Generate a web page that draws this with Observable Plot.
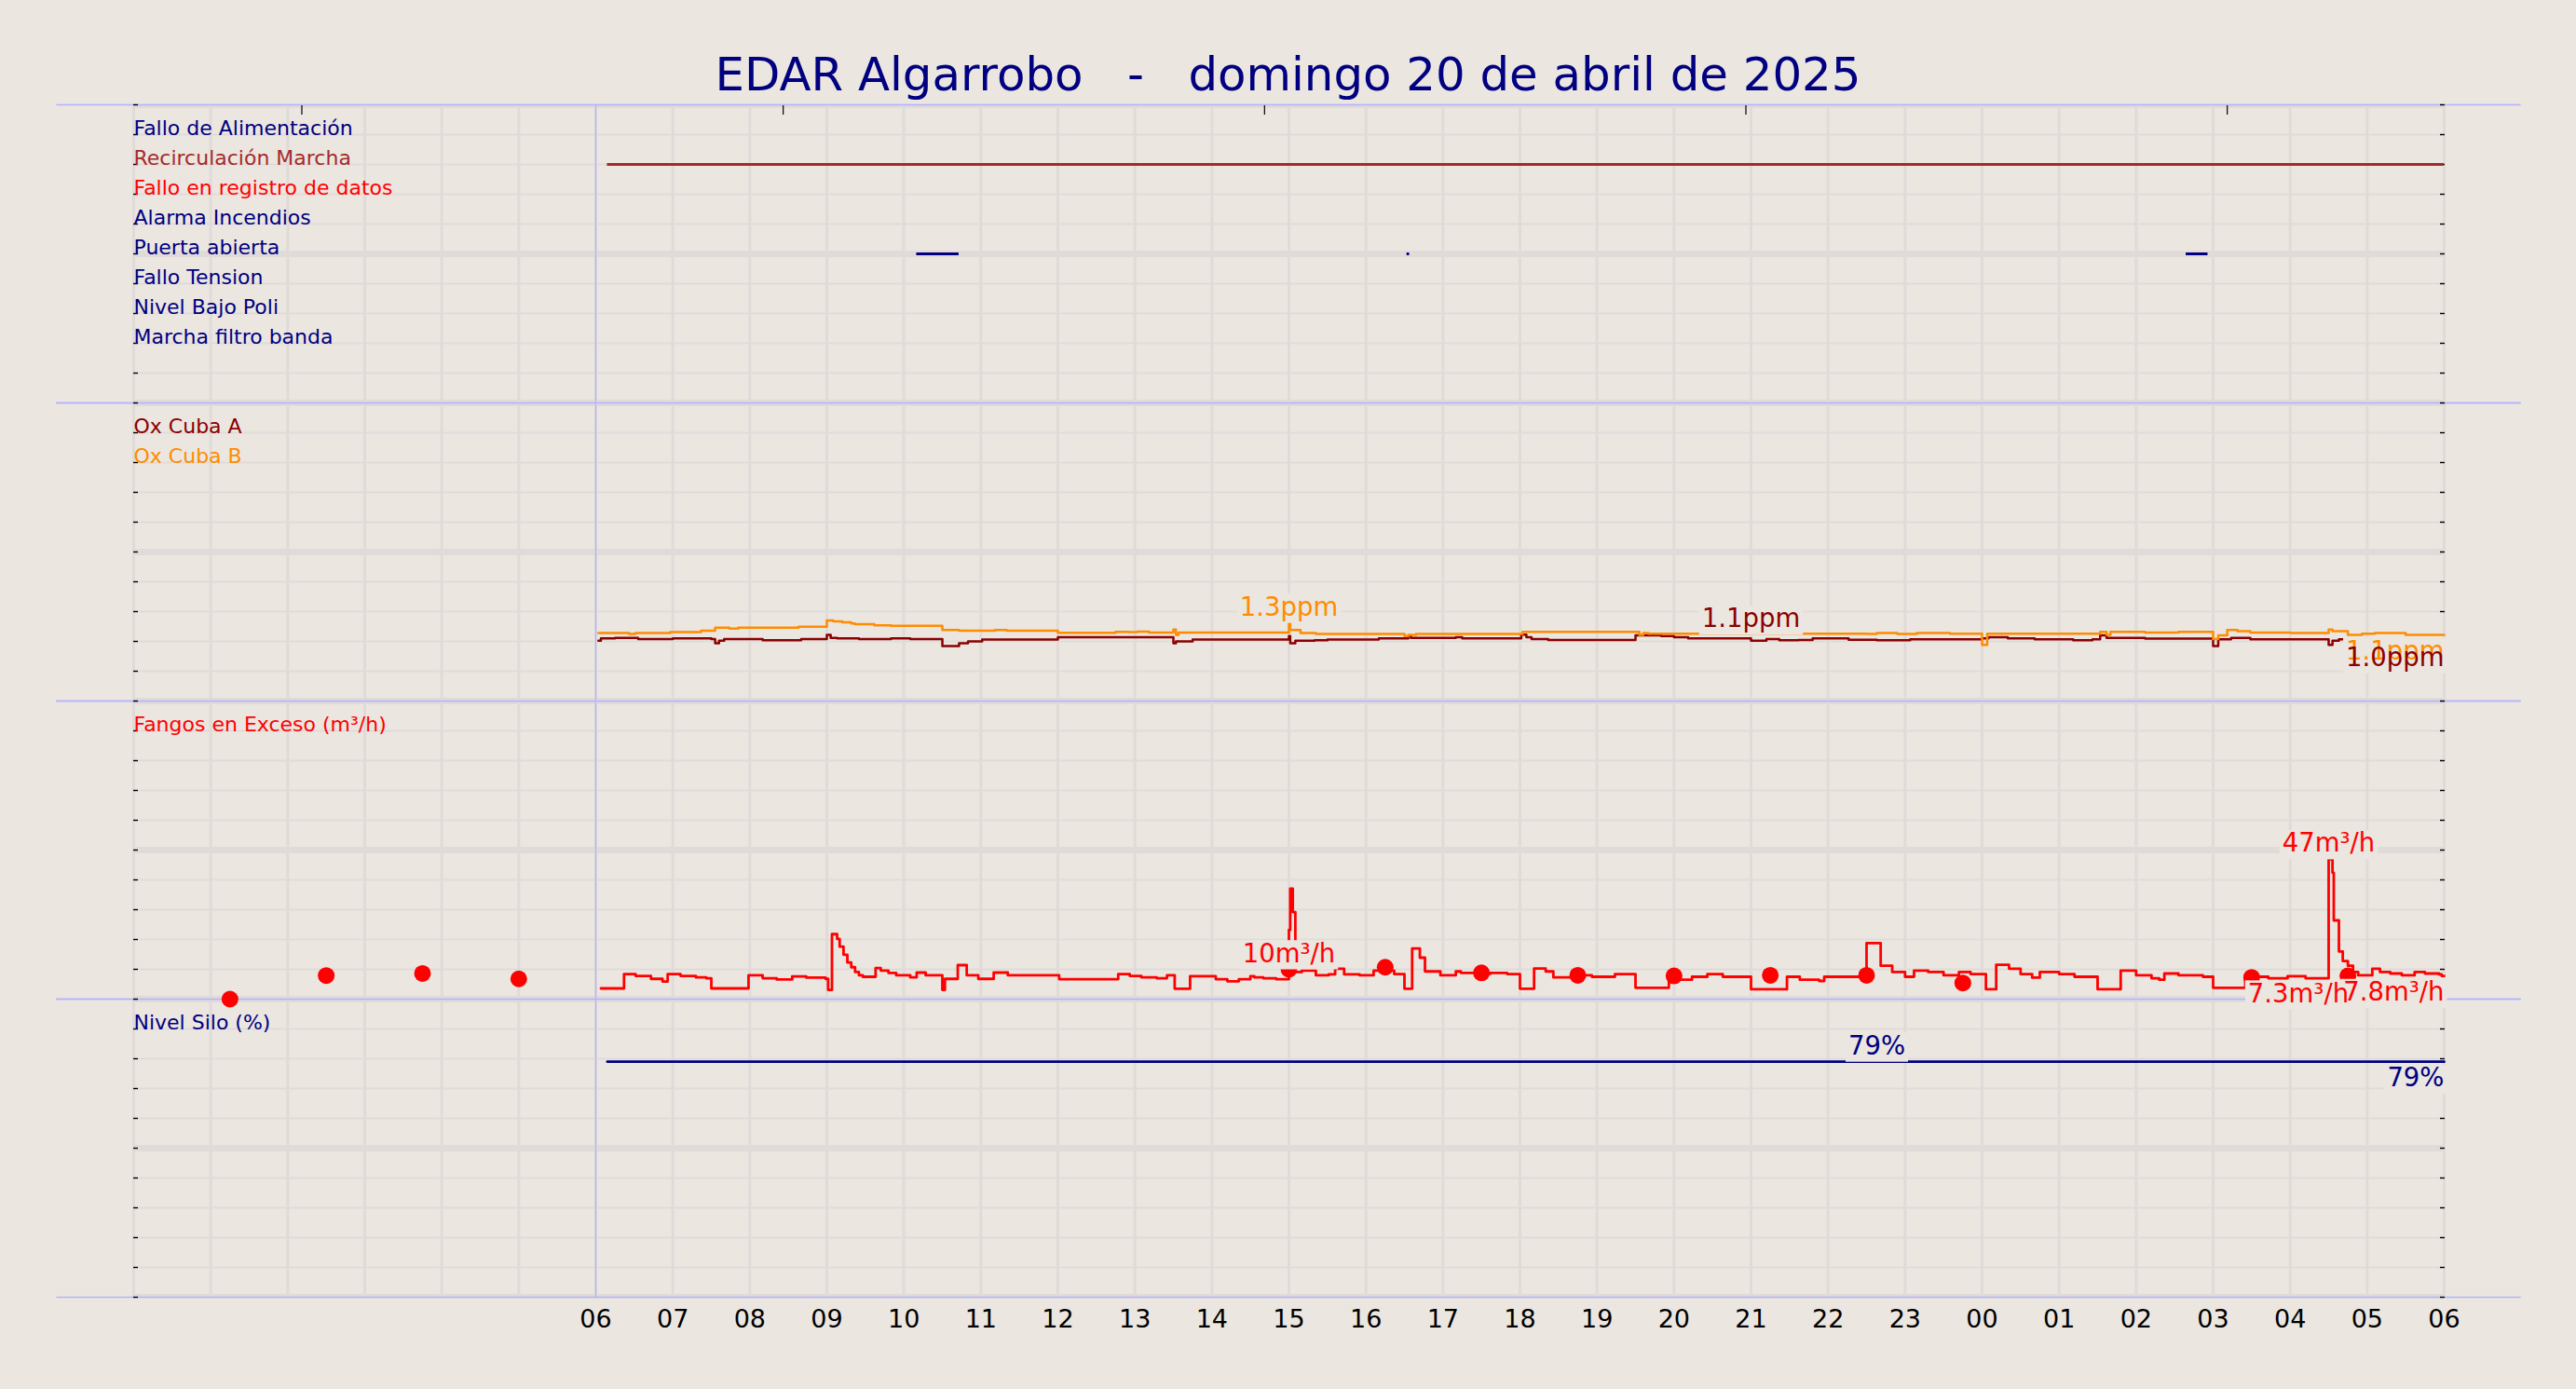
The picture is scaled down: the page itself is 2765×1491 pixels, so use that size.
<!DOCTYPE html>
<html>
<head>
<meta charset="utf-8">
<script src="https://cdn.jsdelivr.net/npm/d3@7"></script>
<script src="https://cdn.jsdelivr.net/npm/@observablehq/plot@0.6"></script>
<style>
  html, body { margin: 0; padding: 0; background: #ebe6e0; }
  body { width: 2765px; height: 1491px; position: relative; overflow: hidden; font-family: "DejaVu Sans", sans-serif; }
  #title { position: absolute; left: 0; top: 56px; width: 2765px; text-align: center; font-size: 49.8px; line-height: 1; color: #000080; white-space: pre; }
</style>
</head>
<body>
<div id="title"></div>
<script>
// ---------------- DATA ----------------
const titleText = "EDAR Algarrobo   -   domingo 20 de abril de 2025";

// Panel 1: digital states (rows from the top)
const stateLabels = ["Fallo de Alimentación", "Recirculación Marcha", "Fallo en registro de datos", "Alarma Incendios",
  "Puerta abierta", "Fallo Tension", "Nivel Bajo Poli", "Marcha filtro banda"];
const stateColors = ["#000080", "#a52a2a", "#ff0000", "#000080", "#000080", "#000080", "#000080", "#000080"];
const stateOnName  = ["Recirculación Marcha", "Puerta abierta", "Puerta abierta", "Puerta abierta"];
const stateOnStart = ["06:09", "10:10", "16:32", "+02:39"];
const stateOnEnd   = ["+06:00", "10:43", "16:34", "+02:56"];

// Panel 2: Ox Cuba A / B (ppm), step series ("+" = next day)
const oxATimes = ["06:02","06:04","06:15","06:33","07:00","07:30","07:33","07:36","07:40","08:10","08:40","09:00","09:03","09:08","09:25","09:50","10:05","10:30","10:43","10:50","11:01","12:00","13:30","13:32","13:45","15:00","15:01","15:05","15:20","15:30","16:10","16:33","16:35","17:10","17:15","18:01","18:05","18:09","18:22","19:30","19:50","20:00","20:11","21:00","21:12","21:22","21:37","21:48","22:16","22:38","23:04","+00:00","+00:05","+00:20","+00:41","+01:11","+01:26","+01:32","+01:37","+02:07","+03:00","+03:04","+03:14","+03:29","+04:30","+04:33","+04:38","+05:00","+06:00"];
const oxAValues = [1.01,1.05,1.06,1.04,1.05,1.04,0.97,1.01,1.04,1.02,1.04,1.11,1.06,1.05,1.04,1.05,1.04,0.92,0.97,1.0,1.03,1.07,0.97,1.0,1.03,1.09,0.97,1.01,1.02,1.03,1.05,1.09,1.06,1.07,1.05,1.115,1.07,1.04,1.025,1.10,1.09,1.07,1.05,1.01,1.04,1.02,1.025,1.05,1.026,1.02,1.036,1.05,1.07,1.05,1.036,1.02,1.036,1.10,1.06,1.047,0.92,1.036,1.06,1.036,0.94,1.01,1.036,1.02,1.0];
const oxBTimes = ["06:02","06:26","06:31","06:58","07:22","07:33","07:44","07:51","08:38","09:00","09:05","09:12","09:19","09:22","09:37","09:50","10:30","10:43","11:11","11:20","12:00","12:45","12:55","13:02","13:11","13:30","13:32","13:34","15:00","15:01","15:09","15:21","16:30","16:33","16:39","18:02","19:33","19:36","19:40","22:31","22:38","22:54","23:09","23:35","+00:00","+00:04","+01:32","+01:37","+01:40","+02:07","+02:33","+03:00","+03:04","+03:11","+03:19","+03:29","+04:00","+04:30","+04:33","+04:45","+04:56","+05:06","+05:30","+06:00"];
const oxBValues = [1.14,1.125,1.14,1.155,1.18,1.23,1.215,1.23,1.245,1.35,1.335,1.32,1.30,1.29,1.27,1.26,1.19,1.18,1.19,1.18,1.145,1.16,1.155,1.165,1.15,1.2,1.11,1.15,1.31,1.19,1.14,1.125,1.09,1.11,1.125,1.16,1.11,1.14,1.13,1.125,1.14,1.125,1.14,1.13,0.94,1.13,1.16,1.11,1.16,1.15,1.16,1.04,1.10,1.19,1.17,1.15,1.14,1.2,1.17,1.11,1.13,1.14,1.11,1.11];
const oxLabelSeries = ["B", "A", "B", "A"];
const oxLabelTimes  = ["15:00", "21:00", "+06:00", "+06:00"];
const oxLabelValues = [1.31, 1.11, 1.11, 1.0];
const oxLabelPlace  = ["above", "above", "end", "end"];

// Panel 3: Fangos en Exceso (m³/h)
const fangosTimes = ["06:04","06:22","06:31","06:43","06:52","06:56","07:06","07:18","07:26","07:30","07:59","08:10","08:21","08:33","08:44","08:59","09:01","09:04","09:08","09:10","09:13","09:16","09:19","09:22","09:25","09:28","09:38","09:42","09:48","09:54","10:05","10:10","10:17","10:30","10:32","10:42","10:49","10:58","11:10","11:21","12:01","12:47","12:56","13:05","13:17","13:25","13:31","13:43","14:03","14:12","14:21","14:30","14:33","14:40","14:50","15:00","15:01","15:03","15:05","15:10","15:21","15:31","15:36","15:43","15:55","16:06","16:22","16:30","16:36","16:42","16:46","16:58","17:10","17:14","17:26","17:37","17:50","18:00","18:11","18:20","18:26","18:47","18:56","19:14","19:30","19:56","20:05","20:14","20:26","20:38","21:00","21:28","21:38","21:53","21:57","22:30","22:41","22:50","23:00","23:07","23:18","23:30","23:42","23:51","+00:03","+00:11","+00:21","+00:30","+00:39","+00:45","+01:00","+01:12","+01:30","+01:48","+02:00","+02:12","+02:18","+02:22","+02:33","+02:52","+03:00","+03:25","+03:43","+03:58","+04:12","+04:30","+04:33","+04:34","+04:38","+04:41","+04:45","+04:49","+04:53","+05:04","+05:10","+05:18","+05:27","+05:37","+05:45","+05:56","+05:58","+06:00"];
const fangosValues = [3.6,8.4,7.8,6.8,5.9,8.4,7.8,7.3,7.0,3.6,8.0,7.0,6.6,7.6,7.2,6.8,3.1,21.8,20.2,17.6,14.9,12.3,10.7,9.1,8.0,7.5,10.4,9.6,8.8,8.0,7.3,8.9,8.0,3.1,6.8,11.4,8.0,6.8,8.9,8.0,6.7,8.4,7.8,7.3,7.0,8.0,3.5,7.7,6.7,6.0,6.7,7.7,7.3,7.0,6.7,23.2,37.1,29.2,9.1,9.6,8.0,8.3,10.2,8.3,8.0,9.6,8.4,3.5,17.0,13.9,9.3,8.0,9.3,8.8,8.5,8.8,8.4,3.5,10.3,9.3,7.3,8.0,7.5,8.4,3.8,8.4,6.5,7.5,8.4,7.5,3.3,7.5,6.5,6.1,7.5,18.8,11.2,9.1,7.5,9.6,9.1,8.0,9.1,8.4,3.3,11.5,10.2,8.4,7.2,9.1,8.4,7.5,3.3,9.6,8.0,7.0,6.5,8.6,8.0,7.5,3.8,7.5,7.0,7.7,7.0,46.9,42.4,26.4,16.0,12.8,11.2,9.1,8.0,10.2,9.1,8.6,8.0,9.1,8.6,8.3,7.8,7.8];
const fangosDotTimes  = ["01:15","02:30","03:45","05:00","15:00","16:15","17:30","18:45","20:00","21:15","22:30","23:45","+03:30","+04:45"];
const fangosDotValues = [0, 7.9, 8.6, 6.8, 10.0, 10.7, 8.8, 8.0, 7.8, 8.0, 8.0, 5.4, 7.3, 7.8];
const fangosLabelTimes  = ["+04:30", "15:00", "+03:30", "+06:00"];
const fangosLabelValues = [46.9, 10.0, 7.3, 7.8];
const fangosLabelPlace  = ["above", "above", "start", "end"];

// Panel 4: Nivel Silo (%)
const siloTimes  = ["06:09", "+06:00"];
const siloValues = [79, 79];
const siloLabelTimes  = ["22:38", "+06:00"];
const siloLabelValues = [79, 79];
const siloLabelPlace  = ["above", "end"];

// Axis ticks
const topTickTimes = ["02:11", "08:26", "14:41", "20:56", "+03:11"];

// ---------------- HELPERS ----------------
const BG = "#ebe6e0", GRID = "#e0dbd9", SEP = "#b3b3ff";
const NAVY = "#000080", DARKRED = "#8b0000", ORANGE = "#ff8c00", RED = "#ff0000", BROWN = "#a52a2a";
const W = 2765, ML = 143, MR = 142, PH = 320, TOP0 = 112;
const LABEL_FS = 27.5;

const T = s => {
  const next = s[0] === "+", prev = s[0] === "-";
  const [h, m] = s.replace(/^[+-]/, "").split(":").map(Number);
  return new Date(2025, 3, next ? 21 : prev ? 19 : 20, h, m);
};
const xDomain = [T("00:00"), T("+06:00")];
const sepFrom = T("-23:00"), sepTo = T("+07:00");
const hourGrid = d3.timeHour.range(T("00:00"), T("+06:01"));
const hourLabels = d3.timeHour.range(T("06:00"), T("+06:01"));
const zip = (ts, vs) => ts.map((t, i) => ({t: T(t), v: vs[i]}));
const boxedTexts = new Set();

document.getElementById("title").textContent = titleText;

function valueLabels(times, values, places, colors, fmt) {
  return times.map((t, i) => {
    const p = places[i];
    boxedTexts.add(fmt(values[i]));
    return Plot.text([0], {
      x: () => T(t), y: () => values[i], text: () => fmt(values[i]),
      fill: colors[i], fontSize: LABEL_FS,
      textAnchor: p === "above" ? "middle" : p === "start" ? "start" : "end",
      lineAnchor: p === "above" ? "bottom" : "top",
      dy: p === "above" ? -8 : 7, dx: p === "start" ? -4 : 0
    });
  });
}

function panel(idx, yDomain, marks, opts = {}) {
  const mb = opts.bottom ? 60 : 0;
  const [y0, y1] = yDomain;
  const gridVals = d3.range(0, 11).map(k => y0 + k * (y1 - y0) / 10);
  const majorVals = [0, 5, 10].map(k => y0 + k * (y1 - y0) / 10);
  const svg = Plot.plot({
    width: W, height: PH + mb,
    marginLeft: ML, marginRight: MR, marginTop: 0, marginBottom: mb,
    x: {type: "time", domain: xDomain, axis: null},
    y: {domain: yDomain, reverse: !!opts.reverse, axis: null},
    style: {background: "transparent", overflow: "visible", fontFamily: "DejaVu Sans", fontSize: "22px", color: "black"},
    marks: [
      Plot.ruleY(gridVals, {stroke: GRID, strokeWidth: 2.2}),
      Plot.ruleX(hourGrid, {stroke: GRID, strokeWidth: 3}),
      Plot.ruleY(majorVals, {stroke: GRID, strokeWidth: 7, clip: true}),
      Plot.ruleX([T("06:00")], {stroke: SEP, strokeWidth: 1.3}),
      Plot.ruleY([y0, y1], {x1: () => sepFrom, x2: () => sepTo, stroke: SEP, strokeWidth: 1.6}),
      Plot.axisY({anchor: "left", ticks: gridVals, tickSize: -5, tickFormat: () => "", label: null, strokeWidth: 1.4}),
      Plot.axisY({anchor: "right", ticks: gridVals, tickSize: -5, tickFormat: () => "", label: null, strokeWidth: 1.4}),
      ...marks
    ]
  });
  svg.style.position = "absolute";
  svg.style.left = "0px";
  svg.style.top = (TOP0 + idx * PH) + "px";
  svg.style.zIndex = String(10 - idx);
  document.body.appendChild(svg);
  addBoxes(svg);
  return svg;
}

function addBoxes(svg) {
  const texts = [...svg.querySelectorAll("text")].filter(t => boxedTexts.has(t.textContent));
  if (!texts.length) return;
  const ns = "http://www.w3.org/2000/svg";
  const boxG = document.createElementNS(ns, "g");
  const inv = svg.getScreenCTM().inverse();
  for (const t of texts) {
    const b = t.getBBox();
    const fs = parseFloat(getComputedStyle(t).fontSize) || LABEL_FS;
    const m = inv.multiply(t.getScreenCTM());
    const p1 = new DOMPoint(b.x - 3, b.y + 0.17 * fs - 2).matrixTransform(m);
    const p2 = new DOMPoint(b.x + b.width + 3, b.y + b.height + 2).matrixTransform(m);
    const r = document.createElementNS(ns, "rect");
    r.setAttribute("x", Math.min(p1.x, p2.x));
    r.setAttribute("y", Math.min(p1.y, p2.y));
    r.setAttribute("width", Math.abs(p2.x - p1.x));
    r.setAttribute("height", Math.abs(p2.y - p1.y));
    r.setAttribute("fill", BG);
    boxG.appendChild(r);
  }
  let g = texts[0];
  while (g.parentNode && g.parentNode !== svg) g = g.parentNode;
  svg.insertBefore(boxG, g);
}

// ---------------- PANEL 1: states ----------------
const rowOf = name => stateLabels.indexOf(name) + 1;
const onIntervals = stateOnName.map((n, i) => ({name: n, a: T(stateOnStart[i]), b: T(stateOnEnd[i])}));
panel(0, [0, 10], [
  ...stateLabels.map((name, i) => Plot.ruleY(onIntervals.filter(d => d.name === name), {
    y: d => rowOf(d.name), x1: "a", x2: "b", stroke: stateColors[i], strokeWidth: 3
  })),
  Plot.axisX({anchor: "top", ticks: topTickTimes.map(T), tickSize: -10, tickFormat: () => "", label: null, strokeWidth: 1.2}),
  ...stateLabels.map((name, i) => Plot.text([name], {
    frameAnchor: "left", y: () => i + 1, text: d => d, fill: stateColors[i],
    textAnchor: "start", lineAnchor: "bottom", fontSize: 22
  }))
], {reverse: true});

// ---------------- PANEL 2: Ox ----------------
const oxA = zip(oxATimes, oxAValues), oxB = zip(oxBTimes, oxBValues);
const ppm = v => d3.format(".1f")(v) + "ppm";
panel(1, [0, 5], [
  Plot.line(oxA, {x: "t", y: "v", curve: "step-after", stroke: DARKRED, strokeWidth: 2.5}),
  Plot.line(oxB, {x: "t", y: "v", curve: "step-after", stroke: ORANGE, strokeWidth: 2.5}),
  Plot.text(["Ox Cuba A"], {frameAnchor: "left", y: () => 4.5, text: d => d, fill: DARKRED, textAnchor: "start", lineAnchor: "bottom", fontSize: 22}),
  Plot.text(["Ox Cuba B"], {frameAnchor: "left", y: () => 4.0, text: d => d, fill: ORANGE, textAnchor: "start", lineAnchor: "bottom", fontSize: 22}),
  ...valueLabels(oxLabelTimes, oxLabelValues, oxLabelPlace, oxLabelSeries.map(s => s === "A" ? DARKRED : ORANGE), ppm)
]);

// ---------------- PANEL 3: Fangos ----------------
const fangos = zip(fangosTimes, fangosValues), fangosDots = zip(fangosDotTimes, fangosDotValues);
const m3h = v => d3.format(".2")(v) + "m³/h";
panel(2, [0, 100], [
  Plot.line(fangos, {x: "t", y: "v", curve: "step-after", stroke: RED, strokeWidth: 2.8}),
  Plot.dot(fangosDots, {x: "t", y: "v", r: 9, fill: RED, stroke: "none"}),
  Plot.text(["Fangos en Exceso (m³/h)"], {frameAnchor: "left", y: () => 90, text: d => d, fill: RED, textAnchor: "start", lineAnchor: "bottom", fontSize: 22}),
  ...valueLabels(fangosLabelTimes, fangosLabelValues, fangosLabelPlace, fangosLabelTimes.map(() => RED), m3h)
]);

// ---------------- PANEL 4: Silo ----------------
const silo = zip(siloTimes, siloValues);
const pct = v => d3.format(".0f")(v) + "%";
panel(3, [0, 100], [
  Plot.line(silo, {x: "t", y: "v", curve: "step-after", stroke: NAVY, strokeWidth: 2.8}),
  Plot.text(["Nivel Silo (%)"], {frameAnchor: "left", y: () => 90, text: d => d, fill: NAVY, textAnchor: "start", lineAnchor: "bottom", fontSize: 22}),
  ...valueLabels(siloLabelTimes, siloLabelValues, siloLabelPlace, siloLabelTimes.map(() => NAVY), pct),
  Plot.axisX({anchor: "bottom", ticks: hourLabels, tickSize: 0, tickPadding: 13, label: null,
    tickFormat: d => String(d.getHours()).padStart(2, "0"), fontSize: 27, fill: "black"})
], {bottom: true});
</script>
</body>
</html>
